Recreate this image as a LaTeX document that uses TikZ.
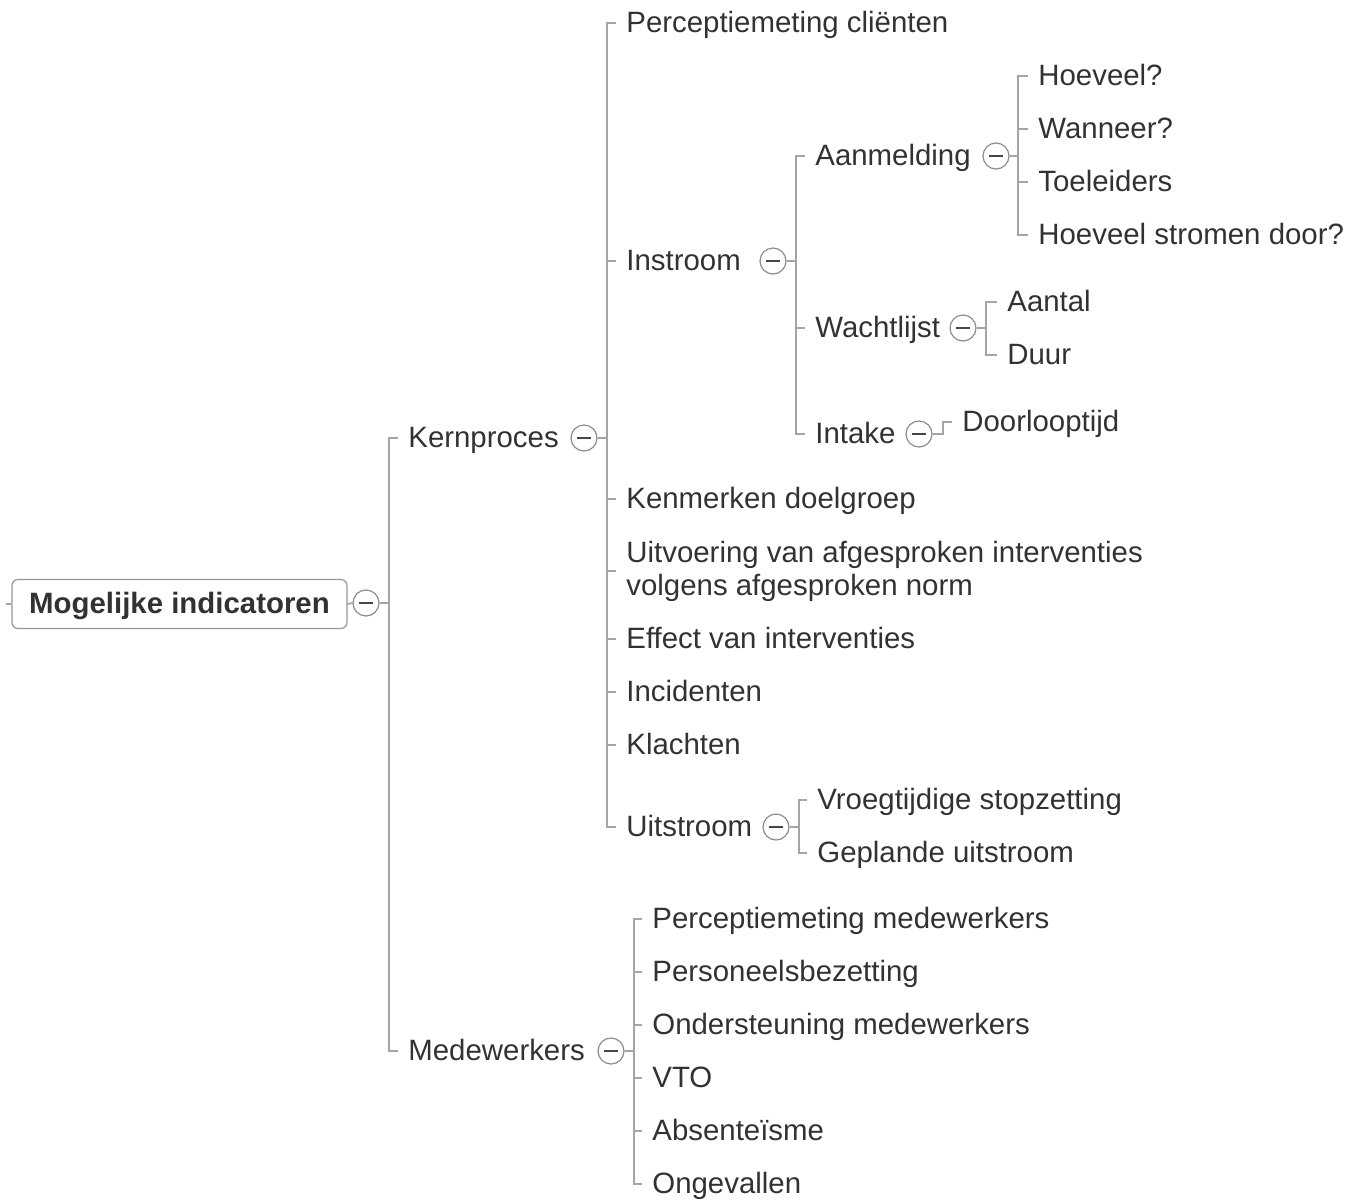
\documentclass[tikz,border=0pt]{standalone}
\usepackage{fontspec}
\setmainfont{Liberation Sans}
\usepackage{xcolor}
\usepackage{tikz}
\usetikzlibrary{positioning, calc}

\definecolor{txtgray}{RGB}{50,50,50}
\definecolor{linegray}{RGB}{165,165,165}
\definecolor{circgray}{RGB}{140,140,140}
\definecolor{boxgray}{RGB}{150,150,150}
\definecolor{minusgray}{RGB}{70,70,70}

\begin{document}
\begin{tikzpicture}[
    x=0.5pt, y=-0.5pt,
    topic/.style={inner sep=0pt, anchor=west, text=txtgray, font=\fontsize{14.7}{16.5}\selectfont, text height=12pt, text depth=2.5pt},
    multi/.style={inner sep=0pt, anchor=west, text=txtgray, font=\fontsize{14.7}{16.5}\selectfont, align=left},
    central/.style={rectangle, rounded corners=3pt, draw=boxgray, line width=0.6pt, minimum width=167.5pt, minimum height=24.5pt, inner sep=0pt, text=txtgray, font=\fontsize{14.7}{16.5}\selectfont\bfseries, text height=12pt, text depth=2.5pt},
    fold/.style={circle, draw=circgray, line width=0.6pt, fill=white, minimum size=13pt, inner sep=0pt,
        path picture={\draw[minusgray, line width=0.6pt] ([xshift=-3.3pt]path picture bounding box.center) -- ([xshift=3.3pt]path picture bounding box.center);}},
    branch/.style={draw=linegray, line width=0.9pt}
]
\useasboundingbox (0,0) rectangle (1361,1201);

% Central topic
\node[central] (root) at (179.5,604) {Mogelijke indicatoren};
\node[fold] (rootC) at (366,603) {};
\draw[branch] (root.west) -- ++(-5,0);
\draw[branch] (root.east) -- (rootC.west);

% Main topics
\node[topic] (kern) at (408,438) {Kernproces};
\node[fold] (kernC) at (584,438) {};
\node[topic] (mede) at (408,1051) {Medewerkers};
\node[fold] (medeC) at (611,1051) {};

% Kernproces
\node[topic] (perccl) at (626,23) {Perceptiemeting cliënten};
\node[topic] (instroom) at (626,261) {Instroom};
\node[fold] (instroomC) at (773,261) {};
\node[topic] (kenmerken) at (626,499) {Kenmerken doelgroep};
\node[multi] (uitvoering) at (626,571) {Uitvoering van afgesproken interventies\\volgens afgesproken norm};
\node[topic] (effect) at (626,639) {Effect van interventies};
\node[topic] (incidenten) at (626,692) {Incidenten};
\node[topic] (klachten) at (626,745) {Klachten};
\node[topic] (uitstroom) at (626,827) {Uitstroom};
\node[fold] (uitstroomC) at (776,827) {};

% Instroom
\node[topic] (aanmelding) at (815,156) {Aanmelding};
\node[fold] (aanmeldingC) at (996,156) {};
\node[topic] (wachtlijst) at (815,328) {Wachtlijst};
\node[fold] (wachtlijstC) at (963,328) {};
\node[topic] (intake) at (815,434) {Intake};
\node[fold] (intakeC) at (919,434) {};

% Aanmelding, Wachtlijst, Intake
\node[topic] (hoeveel) at (1038,76) {Hoeveel?};
\node[topic] (wanneer) at (1038,129) {Wanneer?};
\node[topic] (toeleiders) at (1038,182) {Toeleiders};
\node[topic] (stromen) at (1038,235) {Hoeveel stromen door?};
\node[topic] (aantal) at (1007,302) {Aantal};
\node[topic] (duur) at (1007,355) {Duur};
\node[topic] (doorloop) at (962,422) {Doorlooptijd};

% Uitstroom
\node[topic] (vroeg) at (817,800) {Vroegtijdige stopzetting};
\node[topic] (gepland) at (817,853) {Geplande uitstroom};

% Medewerkers
\node[topic] (percmw) at (652,919) {Perceptiemeting medewerkers};
\node[topic] (bezetting) at (652,972) {Personeelsbezetting};
\node[topic] (ondersteuning) at (652,1025) {Ondersteuning medewerkers};
\node[topic] (vto) at (652,1078) {VTO};
\node[topic] (absent) at (652,1131) {Absenteïsme};
\node[topic] (ongevallen) at (652,1184) {Ongevallen};

% Connectors
\draw[branch] (rootC.east) -- ++(9,0) |- ([xshift=-5pt]kern.west);
\draw[branch] (rootC.east) -- ++(9,0) |- ([xshift=-5pt]mede.west);

\draw[branch] (kernC.east) -- ++(9,0) |- ([xshift=-5pt]perccl.west);
\draw[branch] (kernC.east) -- ++(9,0) |- ([xshift=-5pt]instroom.west);
\draw[branch] (kernC.east) -- ++(9,0) |- ([xshift=-5pt]kenmerken.west);
\draw[branch] (kernC.east) -- ++(9,0) |- ([xshift=-5pt]uitvoering.west);
\draw[branch] (kernC.east) -- ++(9,0) |- ([xshift=-5pt]effect.west);
\draw[branch] (kernC.east) -- ++(9,0) |- ([xshift=-5pt]incidenten.west);
\draw[branch] (kernC.east) -- ++(9,0) |- ([xshift=-5pt]klachten.west);
\draw[branch] (kernC.east) -- ++(9,0) |- ([xshift=-5pt]uitstroom.west);

\draw[branch] (instroomC.east) -- ++(9,0) |- ([xshift=-5pt]aanmelding.west);
\draw[branch] (instroomC.east) -- ++(9,0) |- ([xshift=-5pt]wachtlijst.west);
\draw[branch] (instroomC.east) -- ++(9,0) |- ([xshift=-5pt]intake.west);

\draw[branch] (aanmeldingC.east) -- ++(8,0) |- ([xshift=-5pt]hoeveel.west);
\draw[branch] (aanmeldingC.east) -- ++(8,0) |- ([xshift=-5pt]wanneer.west);
\draw[branch] (aanmeldingC.east) -- ++(8,0) |- ([xshift=-5pt]toeleiders.west);
\draw[branch] (aanmeldingC.east) -- ++(8,0) |- ([xshift=-5pt]stromen.west);

\draw[branch] (wachtlijstC.east) -- ++(9,0) |- ([xshift=-5pt]aantal.west);
\draw[branch] (wachtlijstC.east) -- ++(9,0) |- ([xshift=-5pt]duur.west);

\draw[branch] (intakeC.east) -- ++(10,0) |- ([xshift=-5pt]doorloop.west);

\draw[branch] (uitstroomC.east) -- ++(9,0) |- ([xshift=-5pt]vroeg.west);
\draw[branch] (uitstroomC.east) -- ++(9,0) |- ([xshift=-5pt]gepland.west);

\draw[branch] (medeC.east) -- ++(9,0) |- ([xshift=-5pt]percmw.west);
\draw[branch] (medeC.east) -- ++(9,0) |- ([xshift=-5pt]bezetting.west);
\draw[branch] (medeC.east) -- ++(9,0) |- ([xshift=-5pt]ondersteuning.west);
\draw[branch] (medeC.east) -- ++(9,0) |- ([xshift=-5pt]vto.west);
\draw[branch] (medeC.east) -- ++(9,0) |- ([xshift=-5pt]absent.west);
\draw[branch] (medeC.east) -- ++(9,0) |- ([xshift=-5pt]ongevallen.west);

\end{tikzpicture}
\end{document}
